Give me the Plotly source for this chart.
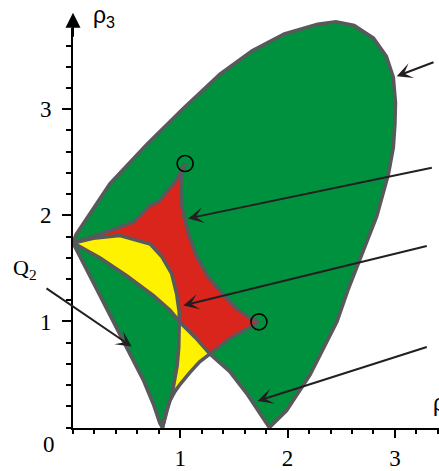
import plotly.graph_objects as go

# ── Curves (rho2, rho3) ──────────────────────────────────────────────────────
# outer boundary: left vertex -> top -> right side -> cusp at rho2~1.83
outer_x = [0.00, 0.03, 0.345, 0.69, 1.03, 1.37, 1.67, 1.97, 2.28, 2.45, 2.62,
           2.80, 2.92, 2.985, 3.005, 3.00, 2.985, 2.94, 2.83, 2.67, 2.56,
           2.46, 2.21, 1.99, 1.83]
outer_y = [1.74, 1.82, 2.30, 2.67, 3.01, 3.33, 3.55, 3.71, 3.80, 3.825, 3.79,
           3.67, 3.50, 3.30, 3.06, 2.86, 2.64, 2.39, 1.99, 1.58, 1.29,
           1.00, 0.50, 0.16, 0.00]

# lower-left outer boundary: left vertex -> cusp at rho2~0.83
left_x = [0.00, 0.127, 0.25, 0.376, 0.50, 0.655, 0.75, 0.81, 0.834]
left_y = [1.74, 1.49, 1.244, 0.996, 0.75, 0.45, 0.22, 0.04, 0.00]

# upper edge of red region: left vertex -> upper cusp
up_x = [0.00, 0.12, 0.25, 0.57, 0.72, 0.80, 0.904, 0.96, 1.02, 1.045]
up_y = [1.74, 1.78, 1.82, 1.94, 2.095, 2.13, 2.26, 2.33, 2.44, 2.49]

# right edge of red region: upper cusp -> lower cusp
mid_x = [1.045, 1.013, 1.004, 1.01, 1.028, 1.075, 1.153, 1.261, 1.385, 1.525,
         1.65, 1.735]
mid_y = [2.49, 2.39, 2.23, 2.12, 2.02, 1.83, 1.61, 1.42, 1.27, 1.12,
         1.03, 0.995]

# curve from cusp 0.83 up to junction, then junction -> lower cusp
low_a_x = [0.834, 0.87, 0.90, 0.95, 1.00, 1.09, 1.18, 1.277]
low_a_y = [0.00, 0.14, 0.25, 0.34, 0.41, 0.52, 0.62, 0.694]
low_b_x = [1.277, 1.37, 1.46, 1.55, 1.62, 1.68, 1.735]
low_b_y = [0.694, 0.77, 0.84, 0.89, 0.93, 0.97, 0.995]

# curve from left vertex through (1,1) and the junction to cusp 1.83
cross_a_x = [0.00, 0.25, 0.50, 0.75, 0.904, 0.99]
cross_a_y = [1.74, 1.60, 1.43, 1.244, 1.105, 1.00]
cross_b_x = [0.99, 1.14, 1.277]
cross_b_y = [1.00, 0.85, 0.694]
cross_c_x = [1.277, 1.37, 1.46, 1.62, 1.73, 1.83]
cross_c_y = [0.694, 0.61, 0.53, 0.32, 0.16, 0.00]

# yellow top edge: left vertex -> (1,1) -> cusp 0.83
yel_a_x = [0.00, 0.19, 0.438, 0.655, 0.72, 0.825, 0.92, 0.966, 0.99, 0.99]
yel_a_y = [1.74, 1.785, 1.81, 1.755, 1.73, 1.615, 1.45, 1.26, 1.09, 1.00]
yel_b_x = [0.99, 0.985, 0.97, 0.95, 0.92, 0.87, 0.834]
yel_b_y = [1.00, 0.75, 0.58, 0.45, 0.30, 0.16, 0.00]

# marked cusps
cusp_x = [1.045, 1.733]
cusp_y = [2.488, 0.996]

COLORS = {
    "green": "#00913F",
    "red": "#DA251D",
    "yellow": "#FFF200",
    "edge": "#58595B",
    "ink": "#231F20",
}

PX_X = 107.3   # pixels per unit
PX_Y = 107.7
W, H = 439, 471
X0, Y0 = 73, 434  # pixel of the origin


def rev(a):
    return list(a)[::-1]


fig = go.Figure()


def area(xs, ys, color):
    fig.add_trace(go.Scatter(x=xs, y=ys, mode="lines", fill="toself",
                             fillcolor=color, line=dict(width=0),
                             hoverinfo="skip", showlegend=False))


def edge(xs, ys):
    fig.add_trace(go.Scatter(x=xs, y=ys, mode="lines",
                             line=dict(color=COLORS["edge"], width=3.6),
                             hoverinfo="skip", showlegend=False))


# fills
area(outer_x + rev(cross_c_x) + rev(low_a_x) + rev(left_x),
     outer_y + rev(cross_c_y) + rev(low_a_y) + rev(left_y), COLORS["green"])
area(up_x + mid_x + rev(low_b_x) + rev(cross_b_x) + rev(yel_a_x),
     up_y + mid_y + rev(low_b_y) + rev(cross_b_y) + rev(yel_a_y), COLORS["red"])
area(yel_a_x + rev(cross_a_x), yel_a_y + rev(cross_a_y), COLORS["yellow"])
area(yel_b_x + low_a_x + rev(cross_b_x), yel_b_y + low_a_y + rev(cross_b_y),
     COLORS["yellow"])

# outlines
edge(outer_x, outer_y)
edge(left_x, left_y)
edge(up_x, up_y)
edge(mid_x, mid_y)
edge(low_a_x + low_b_x, low_a_y + low_b_y)
edge(cross_a_x + cross_b_x + cross_c_x, cross_a_y + cross_b_y + cross_c_y)
edge(yel_a_x + yel_b_x, yel_a_y + yel_b_y)

fig.add_trace(go.Scatter(x=cusp_x, y=cusp_y, mode="markers",
                         marker=dict(symbol="circle-open", size=16, color="black",
                                     line=dict(color="black", width=1.6)),
                         hoverinfo="skip", showlegend=False))

# empty trace so the visible axis pair gets drawn
fig.add_trace(go.Scatter(x=[], y=[], xaxis="x2", yaxis="y2", showlegend=False))

# ── Axes: hidden full-page axes for data, visible axes for ticks ─────────────
x_lo, x_hi = -X0 / PX_X, (W - X0) / PX_X
y_lo, y_hi = -(H - Y0) / PX_Y, Y0 / PX_Y
y_top = (Y0 - 28) / PX_Y

serif = dict(family="Liberation Serif, Times New Roman, serif", size=23, color="black")

fig.update_layout(
    width=W, height=H,
    margin=dict(l=0, r=0, t=0, b=0),
    paper_bgcolor="white", plot_bgcolor="rgba(0,0,0,0)",
    xaxis=dict(range=[x_lo, x_hi], visible=False, domain=[0, 1]),
    yaxis=dict(range=[y_lo, y_hi], visible=False, domain=[0, 1]),
    xaxis2=dict(domain=[X0 / W, 1], range=[0, x_hi], anchor="y2",
                showline=True, linecolor="black", linewidth=2,
                showgrid=False, zeroline=False,
                tickmode="array", tickvals=[1, 2, 3], ticks="outside",
                ticklen=8, tickwidth=1.5, tickcolor="black", tickfont=serif,
                ticklabelstandoff=1,
                minor=dict(tickmode="linear", tick0=0, dtick=0.2, ticks="outside",
                           ticklen=4, tickwidth=1.5, tickcolor="black")),
    yaxis2=dict(domain=[(H - Y0) / H, (H - 28) / H], range=[0, y_top], anchor="x2",
                showline=True, linecolor="black", linewidth=2,
                showgrid=False, zeroline=False,
                tickmode="array", tickvals=[1, 2, 3], ticks="outside",
                ticklen=9, tickwidth=1.5, tickcolor="black", tickfont=serif,
                ticklabelstandoff=6,
                minor=dict(tickmode="linear", tick0=0, dtick=0.2, ticks="outside",
                           ticklen=5, tickwidth=1.5, tickcolor="black")),
    showlegend=False,
)

# y-axis arrow head
fig.add_annotation(x=0, y=(Y0 - 13) / PX_Y, ax=0, ay=y_top - 0.1,
                   xref="x", yref="y", axref="x", ayref="y", text="",
                   showarrow=True, arrowhead=2, arrowsize=1.5, arrowwidth=2,
                   arrowcolor="black", standoff=0)

# pointer arrows (tip, tail)
arrows = [
    ((3.017, 3.312), (3.374, 3.448)),
    ((1.073, 1.971), (3.358, 2.451)),
    ((1.028, 1.151), (3.311, 1.715)),
    ((1.72, 0.25), (3.311, 0.764)),
    ((0.547, 0.764), (-0.261, 1.321)),
]
for (tx, ty), (sx, sy) in arrows:
    fig.add_annotation(x=tx, y=ty, ax=sx, ay=sy, xref="x", yref="y",
                       axref="x", ayref="y", text="", showarrow=True,
                       arrowhead=3, arrowsize=1.3, arrowwidth=2,
                       arrowcolor=COLORS["ink"], standoff=0)

fig.add_annotation(x=-0.224, y=-0.16, xref="x", yref="y", text="0",
                   showarrow=False, font=serif)
fig.add_annotation(x=-0.447, y=1.495, xref="x", yref="y", text="Q<sub>2</sub>",
                   showarrow=False, font=dict(family="Liberation Serif, serif",
                                              size=22, color="black"))
fig.add_annotation(x=0.165, y=3.87, xref="x", yref="y", xanchor="left",
                   text="ρ<sub>3</sub>", showarrow=False,
                   font=dict(family="Liberation Sans, Arial, sans-serif",
                             size=23, color="black"))
fig.add_annotation(x=3.34, y=0.22, xref="x", yref="y", xanchor="left",
                   text="ρ<sub>2</sub>", showarrow=False,
                   font=dict(family="Liberation Sans, Arial, sans-serif",
                             size=23, color="black"))

# page body has a default 8px margin; drop it so the figure sits at (0, 0)
fig.write_html("out.html", config={"displayModeBar": False},
               post_script="document.body.style.margin='0';")
